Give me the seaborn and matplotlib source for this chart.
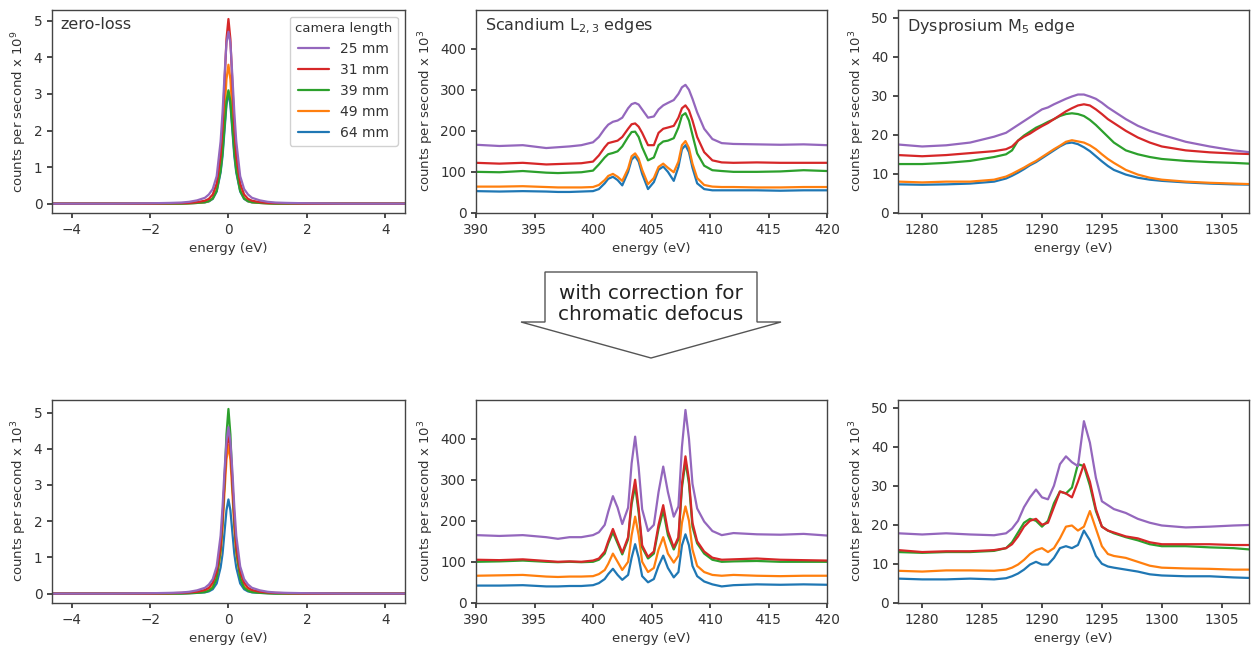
import matplotlib
matplotlib.use("Agg")
import matplotlib.pyplot as plt
from matplotlib.patches import Polygon
import pandas as pd
import seaborn as sns

# ---------------------------------------------------------------- data
# camera lengths in drawing order (legend shows them reversed)
CAMERA_LENGTHS = ["64 mm", "49 mm", "39 mm", "31 mm", "25 mm"]

# zero-loss peak, counts per second
ZL_E = [-4.5, -3, -2, -1.5, -1.2, -1.0, -0.8, -0.6, -0.5, -0.4, -0.3, -0.2, -0.15, -0.1, -0.05, 0,
        0.05, 0.1, 0.15, 0.2, 0.3, 0.4, 0.5, 0.6, 0.8, 1.0, 1.2, 1.5, 2, 3, 4.5]
zl_top_25 = [0.0, 0.0, 0.01, 0.02, 0.03, 0.05, 0.09, 0.16, 0.25, 0.4, 0.75, 1.7, 2.5, 3.5, 4.4, 4.7,
             4.4, 3.5, 2.5, 1.7, 0.75, 0.4, 0.25, 0.16, 0.09, 0.05, 0.03, 0.02, 0.01, 0.0, 0.0]
zl_top_31 = [0.0, 0.0, 0.0, 0.01, 0.015, 0.02, 0.04, 0.08, 0.13, 0.25, 0.55, 1.3, 2.1, 3.3, 4.5, 5.05,
             4.5, 3.3, 2.1, 1.3, 0.55, 0.25, 0.13, 0.08, 0.04, 0.02, 0.015, 0.01, 0.0, 0.0, 0.0]
zl_top_39 = [0.0, 0.0, 0.0, 0.0, 0.0, 0.01, 0.02, 0.04, 0.07, 0.14, 0.35, 0.9, 1.4, 2.1, 2.8, 3.1,
             2.8, 2.1, 1.4, 0.9, 0.35, 0.14, 0.07, 0.04, 0.02, 0.01, 0.0, 0.0, 0.0, 0.0, 0.0]
zl_top_49 = [0.0, 0.0, 0.0, 0.0, 0.0, 0.01, 0.02, 0.04, 0.07, 0.15, 0.38, 1.0, 1.6, 2.5, 3.4, 3.8,
             3.4, 2.5, 1.6, 1.0, 0.38, 0.15, 0.07, 0.04, 0.02, 0.01, 0.0, 0.0, 0.0, 0.0, 0.0]
zl_top_64 = [0.0, 0.0, 0.0, 0.0, 0.0, 0.01, 0.02, 0.035, 0.06, 0.13, 0.33, 0.85, 1.3, 2.0, 2.7, 3.05,
             2.7, 2.0, 1.3, 0.85, 0.33, 0.13, 0.06, 0.035, 0.02, 0.01, 0.0, 0.0, 0.0, 0.0, 0.0]

zl_bot_25 = [0.0, 0.0, 0.01, 0.02, 0.03, 0.05, 0.09, 0.16, 0.25, 0.4, 0.75, 1.6, 2.4, 3.4, 4.2, 4.6,
             4.2, 3.4, 2.4, 1.6, 0.75, 0.4, 0.25, 0.16, 0.09, 0.05, 0.03, 0.02, 0.01, 0.0, 0.0]
zl_bot_31 = [0.0, 0.0, 0.0, 0.01, 0.02, 0.03, 0.05, 0.1, 0.16, 0.3, 0.6, 1.3, 2.1, 3.1, 4.0, 4.4,
             4.0, 3.1, 2.1, 1.3, 0.6, 0.3, 0.16, 0.1, 0.05, 0.03, 0.02, 0.01, 0.0, 0.0, 0.0]
zl_bot_39 = [0.0, 0.0, 0.0, 0.0, 0.0, 0.01, 0.02, 0.04, 0.08, 0.16, 0.42, 1.2, 2.0, 3.1, 4.4, 5.1,
             4.4, 3.1, 2.0, 1.2, 0.42, 0.16, 0.08, 0.04, 0.02, 0.01, 0.0, 0.0, 0.0, 0.0, 0.0]
zl_bot_49 = [0.0, 0.0, 0.0, 0.0, 0.01, 0.015, 0.03, 0.06, 0.1, 0.2, 0.45, 1.1, 1.8, 2.8, 3.7, 4.1,
             3.7, 2.8, 1.8, 1.1, 0.45, 0.2, 0.1, 0.06, 0.03, 0.015, 0.01, 0.0, 0.0, 0.0, 0.0]
zl_bot_64 = [0.0, 0.0, 0.0, 0.0, 0.0, 0.01, 0.02, 0.035, 0.06, 0.12, 0.28, 0.72, 1.1, 1.7, 2.3, 2.6,
             2.3, 1.7, 1.1, 0.72, 0.28, 0.12, 0.06, 0.035, 0.02, 0.01, 0.0, 0.0, 0.0, 0.0, 0.0]

# Scandium L2,3 edges, counts per second x 10^3
SC_E = [390, 392, 394, 396, 397, 398, 399, 400, 400.5, 401, 401.3, 401.7, 402.1, 402.5, 403.0,
        403.3, 403.6, 403.9, 404.2, 404.7, 405.2, 405.6, 406.0, 406.4, 406.9, 407.3, 407.6, 407.9,
        408.2, 408.5, 408.9, 409.5, 410.2, 411, 412, 414, 416, 418, 420]
sc_top_25 = [166, 163, 165, 158, 160, 162, 165, 172, 185, 205, 215, 222, 225, 232, 255, 265, 268, 264,
             252, 232, 235, 252, 262, 268, 275, 290, 306, 312, 300, 278, 245, 205, 180, 170, 168, 167,
             166, 167, 165]
sc_top_31 = [122, 120, 122, 118, 119, 120, 121, 125, 140, 160, 170, 173, 176, 185, 205, 216, 218, 210,
             195, 165, 165, 195, 205, 208, 212, 232, 255, 262, 250, 225, 185, 148, 128, 123, 122, 123,
             122, 122, 122]
sc_top_39 = [100, 99, 102, 98, 97, 98, 99, 103, 118, 135, 143, 146, 150, 162, 185, 197, 198, 185,
             160, 128, 135, 165, 174, 176, 182, 208, 237, 243, 225, 190, 145, 115, 104, 102, 100, 100,
             101, 104, 102]
sc_top_49 = [64, 64, 65, 63, 62, 62, 62, 63, 68, 80, 90, 95, 88, 78, 108, 138, 145, 132, 105, 70, 85,
             112, 120, 110, 99, 125, 165, 175, 158, 120, 85, 68, 64, 63, 63, 62, 62, 63, 63]
sc_top_64 = [53, 52, 53, 52, 51, 51, 52, 53, 58, 72, 83, 88, 80, 67, 100, 130, 138, 125, 95, 58, 75,
             105, 113, 100, 78, 112, 155, 165, 148, 110, 72, 58, 55, 55, 55, 55, 54, 55, 55]

sc_bot_25 = [165, 163, 165, 160, 156, 160, 160, 165, 172, 190, 222, 260, 232, 192, 232, 340, 405, 330,
             228, 175, 190, 270, 332, 270, 210, 235, 380, 470, 400, 290, 230, 198, 175, 165, 170, 167,
             166, 168, 164]
sc_bot_31 = [105, 104, 106, 102, 100, 101, 100, 103, 108, 125, 150, 180, 150, 122, 160, 250, 300, 230,
             140, 112, 125, 190, 238, 175, 135, 160, 290, 357, 300, 195, 150, 125, 110, 105, 106, 108,
             105, 104, 103]
sc_bot_39 = [100, 101, 103, 100, 99, 100, 99, 100, 105, 120, 145, 172, 145, 118, 155, 240, 285, 220,
             135, 108, 120, 180, 225, 165, 130, 155, 280, 345, 290, 185, 145, 120, 105, 100, 101, 102,
             100, 100, 100]
sc_bot_49 = [66, 67, 68, 64, 63, 64, 64, 65, 70, 80, 95, 120, 100, 80, 100, 165, 210, 165, 100, 75,
             85, 130, 160, 120, 98, 115, 195, 235, 200, 130, 90, 75, 68, 66, 68, 66, 65, 66, 66]
sc_bot_64 = [42, 42, 43, 40, 40, 41, 41, 43, 48, 58, 70, 83, 68, 56, 68, 110, 143, 110, 65, 50, 58,
             90, 115, 85, 62, 75, 140, 167, 140, 90, 65, 52, 45, 40, 43, 45, 44, 45, 44]

# Dysprosium M5 edge, counts per second x 10^3
DY_E = [1278, 1280, 1282, 1284, 1286, 1287, 1287.5, 1288, 1288.5, 1289, 1289.5, 1290, 1290.5, 1291,
        1291.5, 1292, 1292.5, 1293, 1293.5, 1294, 1294.5, 1295, 1295.5, 1296, 1297, 1298, 1299, 1300,
        1302, 1304, 1306, 1308]
dy_top_25 = [17.5, 17, 17.3, 18, 19.5, 20.5, 21.5, 22.5, 23.5, 24.5, 25.5, 26.5, 27, 27.8, 28.5, 29.2,
             29.8, 30.3, 30.3, 29.8, 29.2, 28.2, 27, 26, 24, 22.3, 21, 20, 18.2, 17, 16, 15.3]
dy_top_31 = [14.8, 14.5, 14.8, 15.3, 15.8, 16.3, 17, 18.5, 19.5, 20.3, 21.3, 22.2, 23, 24, 25, 26,
             26.8, 27.5, 27.8, 27.5, 26.5, 25.3, 24, 23, 21, 19.3, 18, 17, 16, 15.5, 15.2, 15]
dy_top_39 = [12.5, 12.5, 12.8, 13.3, 14.3, 15, 16, 18.5, 19.8, 20.8, 21.8, 22.5, 23.3, 24, 24.8, 25.3,
             25.5, 25.3, 24.8, 23.8, 22.5, 21, 19.5, 18, 16, 15, 14.3, 13.8, 13.3, 13, 12.8, 12.5]
dy_top_49 = [8, 7.8, 8, 8, 8.5, 9.3, 10, 10.8, 11.6, 12.5, 13.3, 14.3, 15.3, 16.3, 17.2, 18.2, 18.6,
             18.3, 18, 17.3, 16.3, 15, 13.8, 12.8, 11, 9.8, 9, 8.5, 8, 7.7, 7.5, 7.3]
dy_top_64 = [7.3, 7.2, 7.3, 7.5, 8, 8.8, 9.5, 10.3, 11.2, 12.2, 13, 14, 15, 16, 17, 17.8, 18, 17.6,
             16.8, 15.8, 14.5, 13.2, 12, 11, 9.8, 9, 8.5, 8.2, 7.8, 7.5, 7.3, 7.2]

dy_bot_25 = [17.8, 17.5, 17.8, 17.5, 17.3, 17.8, 19, 21, 24.5, 27, 29, 27, 26.5, 30, 35.5, 37.5, 36,
             35, 46.5, 41, 32, 26, 25, 24, 23, 21.5, 20.5, 19.8, 19.3, 19.5, 19.8, 20]
dy_bot_31 = [13.5, 13, 13.2, 13.2, 13.5, 14, 15, 17, 19.5, 21, 21.5, 20, 20.5, 24.5, 28.5, 28, 27, 31,
             35.5, 31, 24, 19.5, 18.5, 18, 17, 16.5, 15.5, 15, 15, 15, 14.8, 14.8]
dy_bot_39 = [13, 12.8, 13, 13, 13.3, 14, 15.5, 18, 20.5, 21.5, 21, 19.5, 21, 25.5, 28.5, 28, 29.5,
             35.5, 35, 30, 23.5, 19.5, 18.5, 17.8, 16.8, 16, 15, 14.5, 14.5, 14.2, 14, 13.5]
dy_bot_49 = [8.2, 8, 8.3, 8.3, 8.2, 8.5, 9, 9.8, 11, 12.5, 13.5, 14, 13, 14, 16.5, 19.5, 19.8, 18.5,
             19.5, 23.5, 19, 14.5, 12.5, 12, 11.5, 10.5, 9.5, 9, 8.8, 8.7, 8.5, 8.5]
dy_bot_64 = [6.2, 6, 6, 6.2, 6, 6.3, 6.8, 7.5, 8.5, 9.8, 10.5, 9.8, 9.8, 11.5, 14, 14.5, 14, 14.8,
             18.5, 16, 12, 10, 9.3, 9, 8.5, 8, 7.3, 7, 6.8, 6.8, 6.5, 6.3]

# ---------------------------------------------------------------- style
sns.set_theme(style="ticks")
plt.rcParams.update({
    "font.family": ["DejaVu Sans"],
    "axes.edgecolor": "#444444",
    "axes.linewidth": 1.0,
    "xtick.color": "#333333",
    "ytick.color": "#333333",
    "xtick.major.size": 3.5,
    "ytick.major.size": 3.5,
    "xtick.labelsize": 9.8,
    "ytick.labelsize": 9.8,
    "axes.labelsize": 9.5,
    "axes.labelcolor": "#333333",
    "text.color": "#333333",
})

PALETTE = {"64 mm": "#1f77b4", "49 mm": "#ff7f0e", "39 mm": "#2ca02c",
           "31 mm": "#d62728", "25 mm": "#9467bd"}


def long_table(energy, curves):
    frames = [pd.DataFrame({"energy": energy, "counts": vals, "camera": cam})
              for cam, vals in zip(CAMERA_LENGTHS, curves)]
    return pd.concat(frames, ignore_index=True)


def draw_panel(ax, energy, curves, xlim, ylim, ylabel, title=None):
    data = long_table(energy, curves)
    sns.lineplot(data=data, x="energy", y="counts", hue="camera", hue_order=CAMERA_LENGTHS,
                 palette=PALETTE, errorbar=None, linewidth=1.6, legend=False, ax=ax)
    ax.set_xlim(*xlim)
    if ylim is not None:
        ax.set_ylim(*ylim)
    ax.set_xlabel("energy (eV)")
    ax.set_ylabel(ylabel, labelpad=3)
    if title:
        ax.text(0.025, 0.965, title, transform=ax.transAxes, ha="left", va="top",
                fontsize=11.5, color="#333333")


fig = plt.figure(figsize=(12.51, 6.51), dpi=100)

col_left = [0.0416, 0.3805, 0.718]
col_width = [0.282, 0.2806, 0.2806]
row_bottom = [0.673, 0.074]
row_height = 0.312

axes = [[fig.add_axes([col_left[c], row_bottom[r], col_width[c], row_height]) for c in range(3)]
        for r in range(2)]

ZL_LIM = (-4.5, 4.5)
SC_LIM = (390, 420)
DY_LIM = (1278, 1307.3)

draw_panel(axes[0][0], ZL_E, [zl_top_64, zl_top_49, zl_top_39, zl_top_31, zl_top_25],
           ZL_LIM, None, "counts per second x 10$^9$", "zero-loss")
draw_panel(axes[0][1], SC_E, [sc_top_64, sc_top_49, sc_top_39, sc_top_31, sc_top_25],
           SC_LIM, (0, 495), "counts per second x 10$^3$", "Scandium L$_{2,3}$ edges")
draw_panel(axes[0][2], DY_E, [dy_top_64, dy_top_49, dy_top_39, dy_top_31, dy_top_25],
           DY_LIM, (0, 52), "counts per second x 10$^3$", "Dysprosium M$_5$ edge")

draw_panel(axes[1][0], ZL_E, [zl_bot_64, zl_bot_49, zl_bot_39, zl_bot_31, zl_bot_25],
           ZL_LIM, None, "counts per second x 10$^3$")
draw_panel(axes[1][1], SC_E, [sc_bot_64, sc_bot_49, sc_bot_39, sc_bot_31, sc_bot_25],
           SC_LIM, (0, 495), "counts per second x 10$^3$")
draw_panel(axes[1][2], DY_E, [dy_bot_64, dy_bot_49, dy_bot_39, dy_bot_31, dy_bot_25],
           DY_LIM, (0, 52), "counts per second x 10$^3$")

for ax in (axes[0][1], axes[1][1]):
    ax.set_xticks([390, 395, 400, 405, 410, 415, 420])
for ax in (axes[0][2], axes[1][2]):
    ax.set_xticks([1280, 1285, 1290, 1295, 1300, 1305])

# legend: shortest camera length first
lines = axes[0][0].get_lines()[:len(CAMERA_LENGTHS)]
axes[0][0].legend(lines[::-1], CAMERA_LENGTHS[::-1], title="camera length", loc="upper right",
                  fontsize=10, title_fontsize=9.5, handlelength=2.2, frameon=True,
                  edgecolor="#cccccc", framealpha=0.9, fancybox=True)

# block arrow between the rows
W, H = 1251.0, 651.0
outline_px = [(545, 272), (757, 272), (757, 322), (781, 322), (651, 358), (521, 322), (545, 322)]
arrow = Polygon([(x / W, 1 - y / H) for x, y in outline_px], closed=True,
                transform=fig.transFigure, facecolor="white", edgecolor="#555555", linewidth=1.0)
fig.add_artist(arrow)
fig.text(651 / W, 1 - 304 / H, "with correction for\nchromatic defocus", ha="center", va="center",
         fontsize=14.4, linespacing=1.1, color="#222222")

fig.savefig("out.png", dpi=100)
